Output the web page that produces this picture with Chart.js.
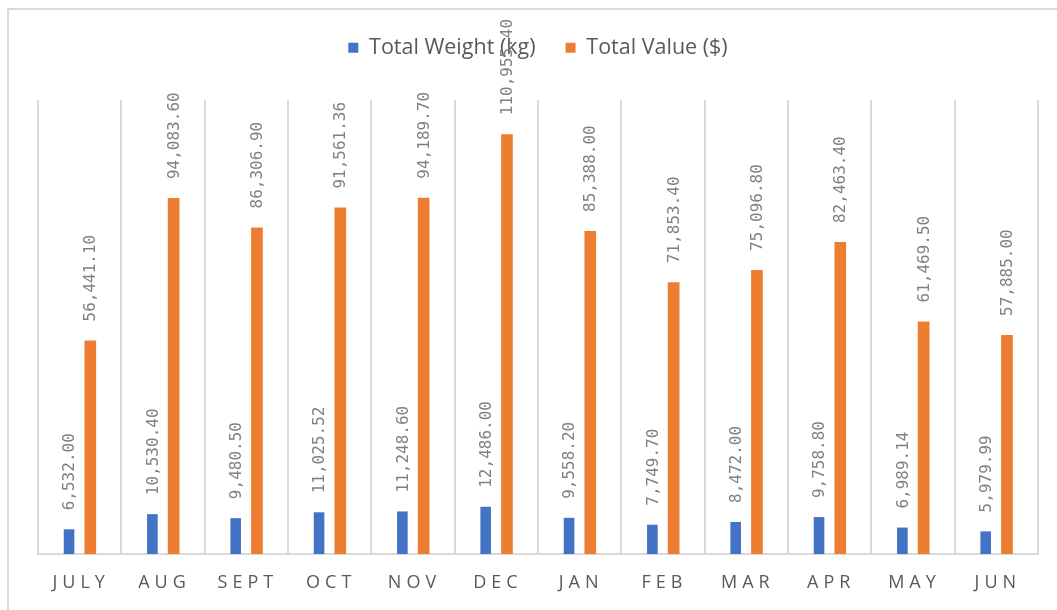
<!DOCTYPE html>
<html><head><meta charset="utf-8">
<script src="https://cdn.jsdelivr.net/npm/chart.js@4.4.1/dist/chart.umd.min.js"></script>
<style>
html,body{margin:0;padding:0;background:#fff;overflow:hidden;width:1057px;height:610px}
#frame{position:absolute;left:7px;top:8px;width:1100px;height:700px;border-top:2px solid #d9d9d9;border-left:2px solid #d9d9d9}
#c{position:absolute;left:0;top:0}
</style></head><body>
<div id="frame"></div>
<canvas id="c" width="1057" height="610"></canvas>
<script>
const months = ['JULY','AUG','SEPT','OCT','NOV','DEC','JAN','FEB','MAR','APR','MAY','JUN'];
const totalWeight = [6532.00, 10530.40, 9480.50, 11025.52, 11248.60, 12486.00, 9558.20, 7749.70, 8472.00, 9758.80, 6989.14, 5979.99];
const totalValue = [56441.10, 94083.60, 86306.90, 91561.36, 94189.70, 110955.40, 85388.00, 71853.40, 75096.80, 82463.40, 61469.50, 57885.00];
const seriesNames = ['Total Weight (kg)', 'Total Value ($)'];
const yMin = 0;
const yMax = 120000;

const fmt = v => v.toLocaleString('en-US', {minimumFractionDigits: 2, maximumFractionDigits: 2});

const valueLabels = {
  id: 'valueLabels',
  afterDraw(chart) {
    const ctx = chart.ctx;
    ctx.save();
    ctx.font = '16px "DejaVu Sans Mono"';
    ctx.fillStyle = '#808080';
    ctx.textAlign = 'left';
    ctx.textBaseline = 'middle';
    chart.data.datasets.forEach((ds, di) => {
      const meta = chart.getDatasetMeta(di);
      meta.data.forEach((bar, i) => {
        ctx.save();
        ctx.translate(bar.x + 1, bar.y - 19);
        ctx.rotate(-Math.PI / 2);
        ctx.fillText(fmt(ds.data[i]), 0, 0);
        ctx.restore();
      });
    });
    ctx.restore();
  }
};

const spacedTicks = {
  id: 'spacedTicks',
  afterDraw(chart) {
    const xs = chart.scales.x;
    const ctx = chart.ctx;
    ctx.save();
    ctx.font = '18px "Open Sans"';
    ctx.fillStyle = '#595959';
    ctx.letterSpacing = '5px';
    ctx.textAlign = 'center';
    ctx.textBaseline = 'middle';
    chart.data.labels.forEach((l, i) => {
      ctx.fillText(l, xs.getPixelForValue(i) + 1.5, xs.top + 29);
    });
    ctx.restore();
  }
};

new Chart(document.getElementById('c'), {
  type: 'bar',
  data: {
    labels: months,
    datasets: [
      {label: seriesNames[0], data: totalWeight, backgroundColor: '#4472C4', categoryPercentage: 0.51, barPercentage: 0.5},
      {label: seriesNames[1], data: totalValue, backgroundColor: '#ED7D31', categoryPercentage: 0.51, barPercentage: 0.55}
    ]
  },
  options: {
    responsive: false,
    animation: false,
    devicePixelRatio: 1,
    layout: {padding: {left: 38, right: 19, top: 7, bottom: 0}},
    plugins: {
      legend: {
        position: 'top',
        labels: {boxWidth: 10, boxHeight: 10, padding: 30, color: '#595959', font: {family: 'Open Sans', size: 21.5}}
      },
      tooltip: {enabled: false}
    },
    scales: {
      x: {
        grid: {display: true, offset: true, color: '#d9d9d9', lineWidth: 2, drawTicks: false},
        border: {display: true, color: '#d9d9d9', width: 2},
        ticks: {display: false},
        afterFit: s => { s.height = 56; }
      },
      xTop: {
        type: 'category', position: 'top', labels: months, display: true,
        grid: {display: false}, border: {display: false}, ticks: {display: false},
        afterFit: s => { s.height = 31.5; }
      },
      y: {display: false, min: yMin, max: yMax}
    }
  },
  plugins: [valueLabels, spacedTicks]
});
</script>
</body></html>
